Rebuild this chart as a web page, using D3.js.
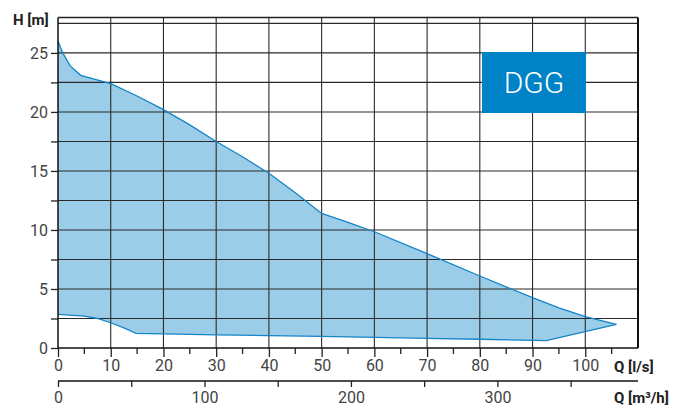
<!DOCTYPE html>
<html>
<head>
<meta charset="utf-8">
<script src="https://cdn.jsdelivr.net/npm/d3@7"></script>
<style>
html,body{margin:0;padding:0;background:#fff;}
svg{display:block;font-family:Roboto, "Liberation Sans", sans-serif;}
</style>
</head>
<body>
<svg id="chart" width="679" height="406"></svg>
<script>
// Upper limit curve (Q l/s, H m)
const upperQ = [0, 0.9, 2.3, 4.3, 10, 15, 20, 25, 30, 35, 40, 45, 50, 55, 60, 70, 80, 90, 95, 100, 105.9];
const upperH = [26.0, 25.0, 23.9, 23.1, 22.4, 21.35, 20.2, 18.9, 17.5, 16.2, 14.8, 13.15, 11.4, 10.65, 9.85, 8.0, 6.1, 4.26, 3.4, 2.65, 2.0];
// Lower limit curve
const lowerQ = [0, 5, 7.5, 10, 12.5, 14.8, 20, 30, 40, 50, 60, 70, 80, 92.6, 105.9];
const lowerH = [2.85, 2.7, 2.5, 2.14, 1.7, 1.24, 1.2, 1.12, 1.05, 0.98, 0.9, 0.82, 0.74, 0.62, 2.0];

const xTicks = [0, 10, 20, 30, 40, 50, 60, 70, 80, 90, 100];
const xMinorTicks = [5, 15, 25, 35, 45, 55, 65, 75, 85, 95, 105];
const yTicks = [0, 5, 10, 15, 20, 25];
const yGrid = [2.5, 5, 7.5, 10, 12.5, 15, 17.5, 20, 22.5, 25, 27.5];
const m3hLabels = [0, 100, 200, 300];
const m3hTicks = [0, 50, 100, 150, 200, 250, 300, 350];
const badge = "DGG";

const svg = d3.select("#chart");
const x = d3.scaleLinear().domain([0, 110]).range([58, 638]);
const y = d3.scaleLinear().domain([0, 28]).range([348, 17.5]);
const xm = d3.scaleLinear().domain([0, 110 * 3.6]).range([58, 638]);

const grid = "#2a2a2a";

// Area polygon
const upper = upperQ.map((q, i) => [q, upperH[i]]);
const lower = lowerQ.map((q, i) => [q, lowerH[i]]);
const poly = upper.concat(lower.slice().reverse());
const line = d3.line().x(d => x(d[0])).y(d => y(d[1]));
svg.append("path").attr("d", line(poly) + "Z").attr("fill", "#9CCDE8").attr("stroke", "none");

// Grid
svg.append("g").selectAll("line").data(yGrid).join("line")
  .attr("x1", x(0)).attr("x2", x(110)).attr("y1", d => y(d)).attr("y2", d => y(d))
  .attr("stroke", grid).attr("stroke-width", 1.1);
svg.append("g").selectAll("line").data(xTicks.slice(1)).join("line")
  .attr("y1", y(0)).attr("y2", y(28)).attr("x1", d => x(d)).attr("x2", d => x(d))
  .attr("stroke", grid).attr("stroke-width", 1.1);

// Curves
svg.append("path").attr("d", line(upper)).attr("fill", "none").attr("stroke", "#1384C8").attr("stroke-width", 1.3);
svg.append("path").attr("d", line(lower)).attr("fill", "none").attr("stroke", "#1384C8").attr("stroke-width", 1.3);

// Frame
svg.append("line").attr("x1", x(0)).attr("x2", x(110)).attr("y1", y(28)).attr("y2", y(28)).attr("stroke", "#222").attr("stroke-width", 1.5);
svg.append("line").attr("x1", x(110)).attr("x2", x(110)).attr("y1", y(28)).attr("y2", y(0)).attr("stroke", "#111").attr("stroke-width", 2);

// Y axis
const yAxis = d3.axisLeft(y).tickValues([0,2.5,5,7.5,10,12.5,15,17.5,20,22.5,25]).tickSize(7).tickPadding(3)
  .tickFormat(d => yTicks.includes(d) ? d : "");
const gy = svg.append("g").attr("transform", `translate(${x(0)},0)`).call(yAxis);
gy.select(".domain").attr("stroke", "#111").attr("stroke-width", 1.5).attr("d", `M0,${y(0)}V${y(28)}`);
gy.selectAll(".tick line").attr("stroke", "#222").attr("stroke-width", 1.3);
gy.selectAll("text").attr("font-size", 16).attr("fill", "#444").attr("font-family", "Roboto").attr("dy", "0.34em");

// X axis (l/s)
const xAxis = d3.axisBottom(x).tickValues(xTicks).tickSize(9).tickPadding(3);
const gx = svg.append("g").attr("transform", `translate(0,${y(0)})`).call(xAxis);
gx.select(".domain").attr("stroke", "#111").attr("stroke-width", 1.5).attr("d", `M${x(0)},0H${x(110)}`);
gx.selectAll(".tick line").attr("stroke", "#222").attr("stroke-width", 1.3);
gx.selectAll("text").attr("font-size", 16).attr("fill", "#444").attr("font-family", "Roboto");
svg.append("g").selectAll("line").data(xMinorTicks).join("line")
  .attr("x1", d => x(d)).attr("x2", d => x(d)).attr("y1", y(0)).attr("y2", y(0) + 6)
  .attr("stroke", "#222").attr("stroke-width", 1.3);

// X axis (m3/h)
const mAxis = d3.axisBottom(xm).tickValues(m3hTicks).tickSize(6).tickPadding(5)
  .tickFormat(d => m3hLabels.includes(d) ? d : "");
const gm = svg.append("g").attr("transform", `translate(0,381)`).call(mAxis);
gm.select(".domain").attr("stroke", "#111").attr("stroke-width", 1.5).attr("d", `M${x(0)},0H${x(110)}`);
gm.selectAll(".tick line").attr("stroke", "#222").attr("stroke-width", 1.3);
gm.selectAll("text").attr("font-size", 16).attr("fill", "#444").attr("font-family", "Roboto");

// Axis titles
svg.append("text").attr("x", 13).attr("y", 25).attr("font-size", 15).attr("font-weight", "bold").attr("fill", "#222").attr("font-family", "Roboto").text("H [m]");
svg.append("text").attr("x", 614).attr("y", 372).attr("font-size", 15).attr("font-weight", "bold").attr("fill", "#222").attr("font-family", "Roboto").text("Q [l/s]");
svg.append("text").attr("x", 614).attr("y", 403).attr("font-size", 15).attr("font-weight", "bold").attr("fill", "#222").attr("font-family", "Roboto").text("Q [m³/h]");

// Badge
svg.append("rect").attr("x", 482).attr("y", 52).attr("width", 104).attr("height", 61).attr("fill", "#0082C6");
svg.append("text").attr("x", 534).attr("y", 93).attr("text-anchor", "middle").attr("font-size", 30).attr("font-weight", 300)
  .attr("fill", "#fff").attr("font-family", "Roboto").text(badge);
</script>
</body>
</html>
